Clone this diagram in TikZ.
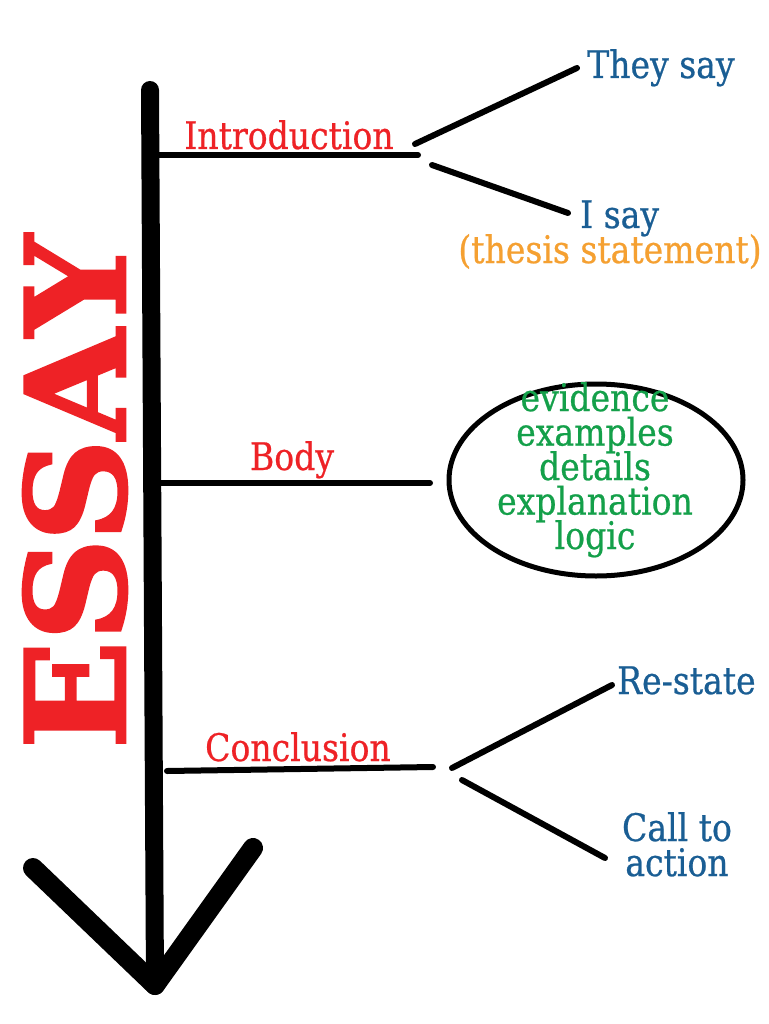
\documentclass[tikz,border=0pt]{standalone}
\usepackage{fontspec}
\usetikzlibrary{shapes.geometric}
\newfontfamily\tw[FakeStretch=0.87,FakeBold=0.6]{DejaVu Serif}
\newfontfamily\twe[FakeStretch=0.87,FakeBold=2]{DejaVu Serif}
\newcommand\greenfont{\tw\fontsize{38}{34.5}\selectfont\lineskiplimit-100pt\relax}
\newcommand\callfont{\tw\fontsize{38}{35}\selectfont\lineskiplimit-100pt\relax}
\definecolor{essred}{HTML}{EE2226}
\definecolor{essblue}{HTML}{1A5E94}
\definecolor{essorange}{HTML}{F5A031}
\definecolor{essgreen}{HTML}{14A04A}
\begin{document}
\begin{tikzpicture}[x=1pt,y=-1pt,
  lbl/.style={inner sep=0pt,font=\tw\fontsize{38}{38}\selectfont},
  redlbl/.style={lbl,text=essred},
  bluelbl/.style={lbl,text=essblue},
  greenlbl/.style={lbl,text=essgreen},
  branch/.style={line width=6pt,line cap=round},
  spine/.style={line width=18pt,line cap=round},
  head/.style={line width=20pt,line cap=round}]
\useasboundingbox[fill=white] (0,0) rectangle (768,1024);
% spine and arrow head
\coordinate (top) at (150,90);
\coordinate (tip) at (155,985);
\coordinate (hl) at (33,868);
\coordinate (hr) at (253,848);
\draw[spine] (top) -- (tip);
\draw[head] (hl) -- (tip);
\draw[head] (hr) -- (tip);
% ESSAY
\node[rotate=90,inner sep=0pt,text=essred] (essay) at (75,492) {\resizebox{513pt}{102pt}{\twe\bfseries ESSAY}};
% Introduction
\coordinate (i0) at (158,155);
\coordinate (i1) at (418,155);
\coordinate (ia) at (415,144);
\coordinate (ib) at (577,68);
\coordinate (ic) at (432,165);
\coordinate (id) at (568,213);
\draw[branch] (i0) -- (i1);
\draw[branch] (ia) -- (ib);
\draw[branch] (ic) -- (id);
\node[redlbl,anchor=base] (intro) at (289,149) {Introduction};
\node[bluelbl,anchor=base west] (they) at (587,78) {They say};
\node[bluelbl,anchor=base west] (isay) at (580,228) {I say};
\node[lbl,text=essorange,anchor=base] (thesis) at (610,263) {(thesis statement)};
% Body
\coordinate (b0) at (160,483);
\coordinate (b1) at (430,483);
\draw[branch] (b0) -- (b1);
\node[redlbl,anchor=base] (body) at (292,470) {Body};
\node[draw,ellipse,line width=5pt,minimum width=294pt,minimum height=192pt] (cloud) at (596,480) {};
\node[greenlbl,align=center,font=\greenfont,anchor=base] (items) at (595,549)
  {evidence\\examples\\details\\explanation\\logic};
% Conclusion
\coordinate (c0) at (167,771);
\coordinate (c1) at (433,767);
\coordinate (ca) at (452,768);
\coordinate (cb) at (612,685);
\coordinate (cc) at (462,780);
\coordinate (cd) at (605,858);
\draw[branch] (c0) -- (c1);
\draw[branch] (ca) -- (cb);
\draw[branch] (cc) -- (cd);
\node[redlbl,anchor=base] (concl) at (298,761) {Conclusion};
\node[bluelbl,anchor=base west] (restate) at (617,694) {Re-state};
\node[bluelbl,align=center,font=\callfont,anchor=base] (call) at (677,876) {Call to\\action};
\end{tikzpicture}
\end{document}
